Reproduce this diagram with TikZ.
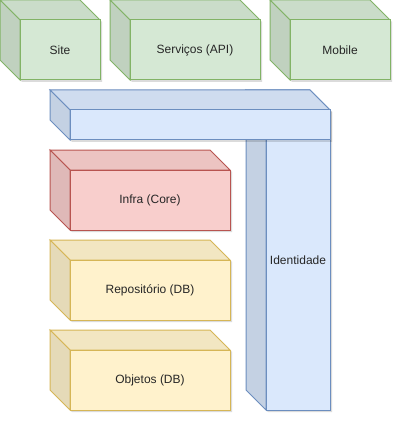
\documentclass[tikz,border=0pt]{standalone}
\usepackage{fontspec}
\setmainfont{Liberation Sans}
\usepackage{tikz}
\usetikzlibrary{calc}

\definecolor{verdeF}{HTML}{D5E8D4}
\definecolor{verdeL}{HTML}{82B366}
\definecolor{azulF}{HTML}{DAE8FC}
\definecolor{azulL}{HTML}{6C8EBF}
\definecolor{vermF}{HTML}{F8CECC}
\definecolor{vermL}{HTML}{B85450}
\definecolor{amarF}{HTML}{FFF2CC}
\definecolor{amarL}{HTML}{D6B656}

\tikzset{
  sombra/.style={fill=black, opacity=0.14},
  rotulo/.style={font=\fontsize{12}{14}\selectfont, text=black!85},
}

% bloco 3D: x, y, largura, altura, cor
\newcommand{\bloco}[5]{%
  \fill[sombra] (#1+2,#2+2) -- (#1+#3-18,#2+2) -- (#1+#3+2,#2+22) -- (#1+#3+2,#2+#4+2)
    -- (#1+22,#2+#4+2) -- (#1+2,#2+#4-18) -- cycle;
  \filldraw[fill=#5F!95!black, draw=#5L] (#1,#2) -- (#1+#3-20,#2) -- (#1+#3,#2+20)
    -- (#1+20,#2+20) -- cycle;
  \filldraw[fill=#5F!90!black, draw=#5L] (#1,#2) -- (#1+20,#2+20) -- (#1+20,#2+#4)
    -- (#1,#2+#4-20) -- cycle;
  \filldraw[fill=#5F, draw=#5L] (#1+20,#2+20) rectangle (#1+#3,#2+#4);
}
% bloco com texto: x, y, largura, altura, cor, nome, texto
\newcommand{\cubo}[7]{%
  \bloco{#1}{#2}{#3}{#4}{#5}
  \node[rotulo] (#6) at (#1+10+#3/2,#2+10+#4/2) {#7};
}

\begin{document}
\begin{tikzpicture}[x=1pt,y=-1pt,line width=1pt]
\useasboundingbox (0,0) rectangle (402,422);

\cubo{0}{0}{100}{80}{verde}{site}{Site}
\cubo{110}{0}{150}{80}{verde}{servicos}{Serviços (API)}
\cubo{270}{0}{120}{80}{verde}{mobile}{Mobile}

\cubo{246}{90}{84}{320}{azul}{identidade}{Identidade}
\bloco{50}{90}{280}{50}{azul}

\cubo{50}{150}{180}{80}{verm}{infra}{Infra (Core)}
\cubo{50}{240}{180}{80}{amar}{repositorio}{Repositório (DB)}
\cubo{50}{330}{180}{80}{amar}{objetos}{Objetos (DB)}

\end{tikzpicture}
\end{document}
